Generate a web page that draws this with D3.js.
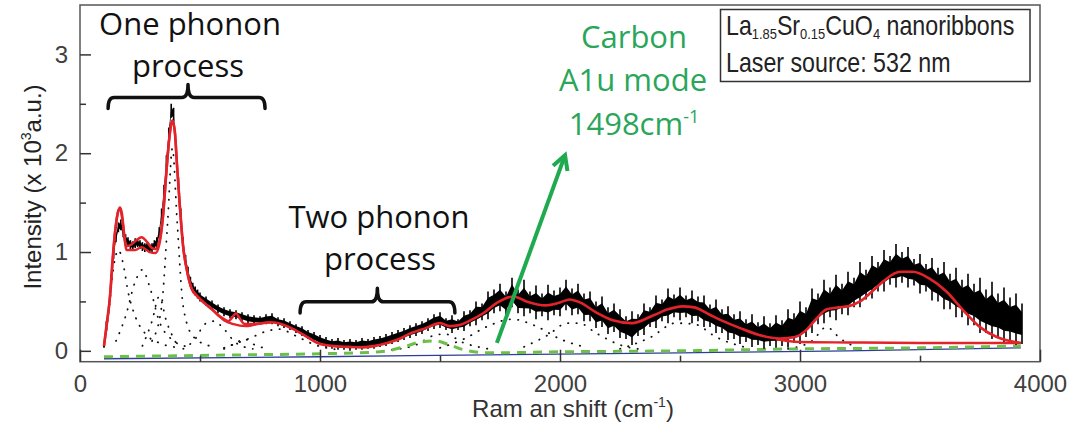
<!DOCTYPE html>
<html>

<head>
    <meta charset="utf-8">
    <title>Raman spectrum of LSCO nanoribbons</title>
    <style>
        body {
            margin: 0;
            background: #fff;
        }

        .axis text {
            font-family: Arial, "Liberation Sans", sans-serif;
            font-size: 24px;
            fill: #404040;
        }

        .axis line {
            stroke: #333;
            stroke-width: 1.5;
        }

        .note {
            font-family: "Open Sans", Lato, sans-serif;
            font-size: 31px;
        }
    </style>
    <script src="https://d3js.org/d3.v7.min.js"></script>
</head>

<body>
    <script>
        // ---- data ----
        // measured spectrum, sampled every 10 cm-1 below 500 and every 25 cm-1 above
        var rawShift = d3.range(100, 500, 10).concat(d3.range(500, 3926, 25));
        // lower / upper edge of the noisy black trace (x 10^3 a.u.)
        var rawLow = [
            0.03, 0.2, 0.4, 0.66, 0.93, 1.1, 1.2, 1.22, 1.15, 1.08,
            1.05, 1.03, 1.02, 1.04, 1.05, 1.03, 1.01, 1.0, 1.01, 0.99,
            1.0, 1.02, 1.05, 1.14, 1.32, 1.56, 1.86, 2.14, 2.36, 2.32,
            1.98, 1.64, 1.32, 1.05, 0.87, 0.75, 0.65, 0.59, 0.56, 0.53,
            0.5, 0.46, 0.42, 0.38, 0.35, 0.33, 0.32, 0.3, 0.28, 0.27,
            0.27, 0.27, 0.27, 0.25, 0.23, 0.21, 0.18, 0.15, 0.12, 0.09,
            0.06, 0.03, 0.02, 0.01, 0.01, 0.0, 0.01, 0.01, 0.02, 0.02,
            0.04, 0.05, 0.07, 0.09, 0.11, 0.13, 0.15, 0.17, 0.2, 0.22,
            0.23, 0.21, 0.18, 0.21, 0.2, 0.25, 0.26, 0.31, 0.32, 0.38,
            0.4, 0.36, 0.44, 0.38, 0.35, 0.38, 0.32, 0.35, 0.31, 0.36,
            0.35, 0.41, 0.36, 0.37, 0.3, 0.3, 0.23, 0.24, 0.17, 0.19,
            0.13, 0.12, 0.06, 0.15, 0.16, 0.24, 0.23, 0.3, 0.28, 0.34,
            0.31, 0.34, 0.28, 0.3, 0.24, 0.24, 0.18, 0.18, 0.11, 0.12,
            0.07, 0.09, 0.04, 0.06, 0.02, 0.05, 0.03, 0.05, 0.03, 0.08,
            0.07, 0.14, 0.18, 0.27, 0.28, 0.34, 0.31, 0.37, 0.36, 0.44,
            0.44, 0.52, 0.53, 0.6, 0.6, 0.67, 0.64, 0.69, 0.64, 0.66,
            0.58, 0.6, 0.51, 0.5, 0.42, 0.42, 0.34, 0.34, 0.26, 0.26,
            0.18, 0.18, 0.12, 0.14, 0.08, 0.1, 0.06, 0.07
        ];
        var rawHigh = [
            0.08, 0.3, 0.5, 0.78, 1.04, 1.2, 1.3, 1.33, 1.25, 1.18,
            1.15, 1.12, 1.11, 1.14, 1.13, 1.12, 1.1, 1.09, 1.1, 1.08,
            1.09, 1.12, 1.15, 1.25, 1.44, 1.68, 1.98, 2.26, 2.5, 2.46,
            2.1, 1.76, 1.44, 1.15, 0.97, 0.85, 0.75, 0.69, 0.65, 0.62,
            0.59, 0.55, 0.51, 0.47, 0.44, 0.42, 0.41, 0.39, 0.37, 0.36,
            0.35, 0.37, 0.38, 0.34, 0.33, 0.3, 0.27, 0.25, 0.21, 0.19,
            0.16, 0.14, 0.12, 0.13, 0.11, 0.12, 0.11, 0.13, 0.12, 0.14,
            0.15, 0.17, 0.19, 0.21, 0.23, 0.26, 0.28, 0.3, 0.33, 0.37,
            0.39, 0.33, 0.36, 0.32, 0.4, 0.41, 0.5, 0.48, 0.6, 0.62,
            0.68, 0.6, 0.74, 0.62, 0.72, 0.6, 0.66, 0.58, 0.67, 0.61,
            0.64, 0.72, 0.63, 0.68, 0.58, 0.6, 0.5, 0.55, 0.44, 0.48,
            0.42, 0.35, 0.4, 0.37, 0.48, 0.44, 0.56, 0.52, 0.63, 0.57,
            0.64, 0.56, 0.61, 0.55, 0.56, 0.47, 0.52, 0.42, 0.45, 0.37,
            0.4, 0.32, 0.37, 0.29, 0.35, 0.28, 0.36, 0.31, 0.42, 0.38,
            0.5, 0.44, 0.63, 0.58, 0.72, 0.64, 0.77, 0.68, 0.8, 0.74,
            0.9, 0.82, 0.96, 0.9, 1.02, 0.96, 1.08, 1.0, 1.05, 0.93,
            0.98, 0.88, 0.94, 0.84, 0.9, 0.78, 0.84, 0.72, 0.78, 0.68,
            0.74, 0.62, 0.7, 0.58, 0.64, 0.54, 0.58, 0.48
        ];

        // total fit (red)
        var fitShift = [100, 110, 125, 135, 146, 158, 167, 175, 185, 194, 210, 235, 257, 280, 300, 315, 330, 345, 360, 372,
            385, 395, 405, 415, 430, 445, 465, 490, 520, 550, 576, 600, 618, 635, 650, 665, 687, 720, 760, 800,
            840, 889, 940, 990, 1050, 1120, 1170, 1230, 1280, 1330, 1380, 1440, 1500, 1540, 1580, 1620, 1680, 1740, 1806, 1860,
            1940, 2000, 2040, 2083, 2150, 2220, 2300, 2390, 2450, 2510, 2560, 2620, 2680, 2750, 2830, 2917, 2980, 3030, 3070, 3111,
            3160, 3200, 3250, 3300, 3350, 3417, 3470, 3540, 3610, 3680, 3750, 3820, 3920];
        var fitValue = [0.05, 0.25, 0.55, 0.9, 1.2, 1.4, 1.45, 1.38, 1.15, 1.06, 1.07, 1.12, 1.15, 1.1, 1.04, 1.03, 1.1, 1.35, 1.82, 2.15,
            2.33, 2.22, 1.85, 1.5, 1.05, 0.82, 0.63, 0.55, 0.48, 0.42, 0.36, 0.32, 0.3, 0.34, 0.38, 0.33, 0.27, 0.27, 0.28, 0.29,
            0.27, 0.22, 0.15, 0.08, 0.05, 0.04, 0.035, 0.05, 0.08, 0.12, 0.18, 0.23, 0.28, 0.25, 0.26, 0.3, 0.38, 0.49, 0.55, 0.5,
            0.46, 0.49, 0.52, 0.49, 0.39, 0.31, 0.28, 0.36, 0.42, 0.45, 0.44, 0.37, 0.3, 0.23, 0.16, 0.125, 0.14, 0.22, 0.33, 0.42,
            0.44, 0.45, 0.5, 0.6, 0.71, 0.8, 0.8, 0.73, 0.6, 0.41, 0.24, 0.14, 0.08];

        // second red curve (sum of components) where it parts from the fit
        var sumShift = [100, 125, 146, 160, 167, 178, 194, 230, 257, 290, 315, 330, 345, 360, 372, 385, 395, 405, 415, 430,
            445, 465, 490, 520, 550, 576, 600, 640, 690, 720, 760, 800];
        var sumValue = [0.05, 0.55, 1.2, 1.42, 1.44, 1.3, 1.02, 1.02, 1.05, 1.0, 0.99, 1.07, 1.33, 1.8, 2.15, 2.33, 2.22, 1.85, 1.5, 1.05,
            0.82, 0.63, 0.55, 0.48, 0.42, 0.36, 0.31, 0.27, 0.25, 0.26, 0.28, 0.29];
        // flat red background under the 3400 cm-1 band
        var redBase = [[2900, 0.12], [2950, 0.1], [3000, 0.09], [3200, 0.085], [3500, 0.08], [3920, 0.08]];

        // fitted components (dotted)
        var components = [
            [[100, 0.05], [120, 0.4], [140, 0.85], [160, 1.02], [180, 0.88], [200, 0.6], [230, 0.35], [270, 0.18], [330, 0.08], [420, 0.03]],
            [[150, 0.1], [190, 0.35], [230, 0.7], [260, 0.82], [290, 0.65], [330, 0.3], [380, 0.12], [450, 0.04]],
            [[260, 0.05], [300, 0.3], [330, 0.55], [360, 0.3], [400, 0.08]],
            [[300, 0.1], [340, 0.45], [365, 1.3], [385, 2.05], [405, 1.3], [430, 0.45], [470, 0.15], [540, 0.05]],
            [[430, 0.02], [480, 0.12], [520, 0.27], [560, 0.3], [600, 0.22], [650, 0.08], [720, 0.02]],
            [[600, 0.02], [650, 0.08], [685, 0.12], [720, 0.07], [780, 0.02]],
            [[600, 0.03], [700, 0.12], [780, 0.2], [830, 0.22], [900, 0.15], [980, 0.06], [1080, 0.01]],
            [[1300, 0.01], [1400, 0.06], [1480, 0.16], [1520, 0.17], [1600, 0.08], [1700, 0.02]],
            [[1500, 0.03], [1600, 0.12], [1700, 0.25], [1800, 0.32], [1900, 0.25], [2000, 0.12], [2100, 0.04]],
            [[1850, 0.04], [1950, 0.16], [2030, 0.28], [2080, 0.28], [2150, 0.18], [2250, 0.06], [2350, 0.01]],
            [[2250, 0.02], [2380, 0.14], [2480, 0.28], [2560, 0.27], [2650, 0.14], [2780, 0.03]],
            [[2950, 0.02], [3050, 0.1], [3110, 0.24], [3170, 0.12], [3250, 0.02]]
        ];

        // carbon A1u mode + background (green dashed) and baseline (blue)
        var carbon = [[100, -0.06], [400, -0.05], [700, -0.04], [1000, -0.03], [1250, -0.01], [1350, 0.04], [1420, 0.09],
            [1480, 0.1], [1540, 0.06], [1600, 0.01], [1700, -0.02], [2000, -0.01], [2500, 0.0], [3000, 0.02], [3500, 0.03], [3920, 0.05]];
        var baseline = [[100, -0.08], [1000, -0.06], [1700, -0.04], [2500, -0.02], [3200, 0.0], [3920, 0.03]];

        var xTicks = [0, 1000, 2000, 3000, 4000];
        var xMinor = [500, 1500, 2500, 3500];
        var yTicks = [0, 1, 2, 3];
        var yMinor = [0.5, 1.5, 2.5];

        // set the dimensions and margins of the graph
        var margin = {
                top: 5,
                right: 33,
                bottom: 64.3,
                left: 80
            },
            width = 1073 - margin.left - margin.right,
            height = 426 - margin.top - margin.bottom;

        var x = d3.scaleLinear().domain([0, 4000]).range([0, width]);
        var y = d3.scaleLinear().domain([-0.11, 3.5]).range([height, 0]);

        var svg = d3.select("body").append("svg")
            .attr("width", 1073)
            .attr("height", 426);

        var g = svg.append("g")
            .attr("transform", "translate(" + margin.left + "," + margin.top + ")");

        var pairLine = d3.line()
            .x(function(d) { return x(d[0]); })
            .y(function(d) { return y(d[1]); })
            .curve(d3.curveMonotoneX);

        // dotted components
        g.selectAll(".comp")
            .data(components)
            .enter().append("path")
            .attr("class", "comp")
            .attr("d", pairLine)
            .attr("fill", "none")
            .attr("stroke", "#111")
            .attr("stroke-width", 1.8)
            .attr("stroke-linecap", "round")
            .attr("stroke-dasharray", "0.4 8");

        // baseline and carbon component
        g.append("path").datum(baseline)
            .attr("d", pairLine)
            .attr("fill", "none")
            .attr("stroke", "#2e3f99")
            .attr("stroke-width", 1.3);
        g.append("path").datum(carbon)
            .attr("d", pairLine)
            .attr("fill", "none")
            .attr("stroke", "#6cc04a")
            .attr("stroke-width", 3)
            .attr("stroke-dasharray", "9 7");

        // the measured spectrum: solid core plus noise spikes
        var raw = rawShift.map(function(s, i) {
            return {s: s, lo: rawLow[i], hi: rawHigh[i]};
        });
        g.append("path").datum(raw)
            .attr("d", d3.area()
                .x(function(d) { return x(d.s); })
                .y0(function(d) { return y(d.lo * 0.78 + d.hi * 0.22); })
                .y1(function(d) { return y(d.lo * 0.22 + d.hi * 0.78); }))
            .attr("fill", "#000");
        g.selectAll(".spike")
            .data(raw)
            .enter().append("line")
            .attr("class", "spike")
            .attr("x1", function(d) { return x(d.s); })
            .attr("x2", function(d) { return x(d.s); })
            .attr("y1", function(d) { return y(d.lo); })
            .attr("y2", function(d) { return y(d.hi); })
            .attr("stroke", "#000")
            .attr("stroke-width", 1.6);

        // red fits
        var fitLine = d3.line()
            .x(function(d) { return x(d.s); })
            .y(function(d) { return y(d.v); })
            .curve(d3.curveMonotoneX);
        g.append("path")
            .datum(sumShift.map(function(s, i) { return {s: s, v: sumValue[i]}; }))
            .attr("d", fitLine)
            .attr("fill", "none")
            .attr("stroke", "#e3232a")
            .attr("stroke-width", 2.4);
        g.append("path").datum(redBase)
            .attr("d", pairLine)
            .attr("fill", "none")
            .attr("stroke", "#e3232a")
            .attr("stroke-width", 2.4);
        g.append("path")
            .datum(fitShift.map(function(s, i) { return {s: s, v: fitValue[i]}; }))
            .attr("d", fitLine)
            .attr("fill", "none")
            .attr("stroke", "#e3232a")
            .attr("stroke-width", 2.6);

        // frame
        g.append("rect")
            .attr("width", width)
            .attr("height", height)
            .attr("fill", "none")
            .attr("stroke", "#555")
            .attr("stroke-width", 1.5);

        // axes, ticks pointing inwards
        g.append("g").attr("class", "axis")
            .attr("transform", "translate(0," + height + ")")
            .call(d3.axisBottom(x).tickValues(xTicks).tickSize(-12).tickPadding(13).tickFormat(d3.format("d")));
        g.append("g").attr("class", "axis")
            .attr("transform", "translate(0," + height + ")")
            .call(d3.axisBottom(x).tickValues(xMinor).tickSize(-6).tickFormat(""));
        g.append("g").attr("class", "axis")
            .call(d3.axisLeft(y).tickValues(yTicks).tickSize(-11).tickPadding(12).tickFormat(d3.format("d")));
        g.append("g").attr("class", "axis")
            .call(d3.axisLeft(y).tickValues(yMinor).tickSize(-6).tickFormat(""));
        g.selectAll(".axis .domain").remove();

        // axis titles
        var xt = svg.append("text")
            .attr("x", 573)
            .attr("y", 417)
            .attr("text-anchor", "middle")
            .style("font-family", "Arial, 'Liberation Sans', sans-serif")
            .style("font-size", "24px")
            .attr("fill", "#333");
        xt.append("tspan").text("Ram an shift (cm");
        xt.append("tspan").attr("dy", -10).style("font-size", "14px").text("-1");
        xt.append("tspan").attr("dy", 10).text(")");

        var yt = svg.append("text")
            .attr("transform", "translate(41,187) rotate(-90)")
            .attr("text-anchor", "middle")
            .style("font-family", "Arial, 'Liberation Sans', sans-serif")
            .style("font-size", "24px")
            .attr("fill", "#222");
        yt.append("tspan").text("Intensity (x 10");
        yt.append("tspan").attr("dy", -10).style("font-size", "14px").text("3");
        yt.append("tspan").attr("dy", 10).text("a.u.)");

        // annotations
        function brace(x1, x2, xc, yh, yend, ytop) {
            var r = 6;
            return "M" + x(x1) + "," + y(yend) +
                "Q" + x(x1) + "," + y(yh) + " " + (x(x1) + r) + "," + y(yh) +
                "L" + (x(xc) - r) + "," + y(yh) +
                "Q" + x(xc) + "," + y(yh) + " " + x(xc) + "," + y(ytop) +
                "Q" + x(xc) + "," + y(yh) + " " + (x(xc) + r) + "," + y(yh) +
                "L" + (x(x2) - r) + "," + y(yh) +
                "Q" + x(x2) + "," + y(yh) + " " + x(x2) + "," + y(yend);
        }
        g.append("path")
            .attr("d", brace(117, 771, 450, 2.563, 2.452, 2.695))
            .attr("fill", "none").attr("stroke", "#111").attr("stroke-width", 3.5)
            .attr("stroke-linecap", "round").attr("stroke-linejoin", "round");
        g.append("path")
            .attr("d", brace(917, 1562, 1239, 0.496, 0.382, 0.634))
            .attr("fill", "none").attr("stroke", "#111").attr("stroke-width", 3.5)
            .attr("stroke-linecap", "round").attr("stroke-linejoin", "round");

        svg.append("text").attr("class", "note").attr("x", 190).attr("y", 35)
            .attr("text-anchor", "middle").attr("fill", "#111").text("One phonon");
        svg.append("text").attr("class", "note").attr("x", 188).attr("y", 77)
            .attr("text-anchor", "middle").attr("fill", "#111").text("process");
        svg.append("text").attr("class", "note").attr("x", 379).attr("y", 228)
            .attr("text-anchor", "middle").attr("fill", "#111").text("Two phonon");
        svg.append("text").attr("class", "note").attr("x", 380).attr("y", 270)
            .attr("text-anchor", "middle").attr("fill", "#111").text("process");

        var green = "#2aa65a";
        svg.append("text").attr("class", "note").attr("x", 634).attr("y", 48)
            .attr("text-anchor", "middle").attr("fill", green).text("Carbon");
        svg.append("text").attr("class", "note").attr("x", 633).attr("y", 91)
            .attr("text-anchor", "middle").attr("fill", green).text("A1u mode");
        var ct = svg.append("text").attr("class", "note").attr("x", 634).attr("y", 135)
            .attr("text-anchor", "middle").attr("fill", green);
        ct.append("tspan").text("1498cm");
        ct.append("tspan").attr("dy", -12).style("font-size", "18px").text("-1");

        // arrow towards the carbon label
        var ax1 = x(1737), ay1 = y(0.08), ax2 = x(2021), ay2 = y(1.98);
        var ang = Math.atan2(ay2 - ay1, ax2 - ax1);
        g.append("line")
            .attr("x1", ax1).attr("y1", ay1).attr("x2", ax2).attr("y2", ay2)
            .attr("stroke", "#1faa4f").attr("stroke-width", 4);
        g.append("path")
            .attr("d", "M" + (ax2 - 16 * Math.cos(ang - 0.5)) + "," + (ay2 - 16 * Math.sin(ang - 0.5)) +
                "L" + ax2 + "," + ay2 +
                "L" + (ax2 - 16 * Math.cos(ang + 0.5)) + "," + (ay2 - 16 * Math.sin(ang + 0.5)))
            .attr("fill", "none").attr("stroke", "#1faa4f").attr("stroke-width", 4)
            .attr("stroke-linejoin", "miter");

        // sample box
        svg.append("rect")
            .attr("x", 720.5).attr("y", 9.5).attr("width", 309.5).attr("height", 72)
            .attr("fill", "#fff").attr("stroke", "#333").attr("stroke-width", 1.5);
        var box = svg.append("g")
            .attr("transform", "translate(726,0) scale(0.86,1)")
            .style("font-family", "Arial, 'Liberation Sans', sans-serif")
            .attr("fill", "#222");
        var l1 = box.append("text").attr("x", 0).attr("y", 35).style("font-size", "27px");
        l1.append("tspan").text("La");
        l1.append("tspan").attr("dy", 4).style("font-size", "15px").text("1.85");
        l1.append("tspan").attr("dy", -4).text("Sr");
        l1.append("tspan").attr("dy", 4).style("font-size", "15px").text("0.15");
        l1.append("tspan").attr("dy", -4).text("CuO");
        l1.append("tspan").attr("dy", 4).style("font-size", "15px").text("4");
        l1.append("tspan").attr("dy", -4).text(" nanoribbons");
        box.append("text").attr("x", 0).attr("y", 72).style("font-size", "27px")
            .text("Laser source: 532 nm");
    </script>
</body>

</html>
